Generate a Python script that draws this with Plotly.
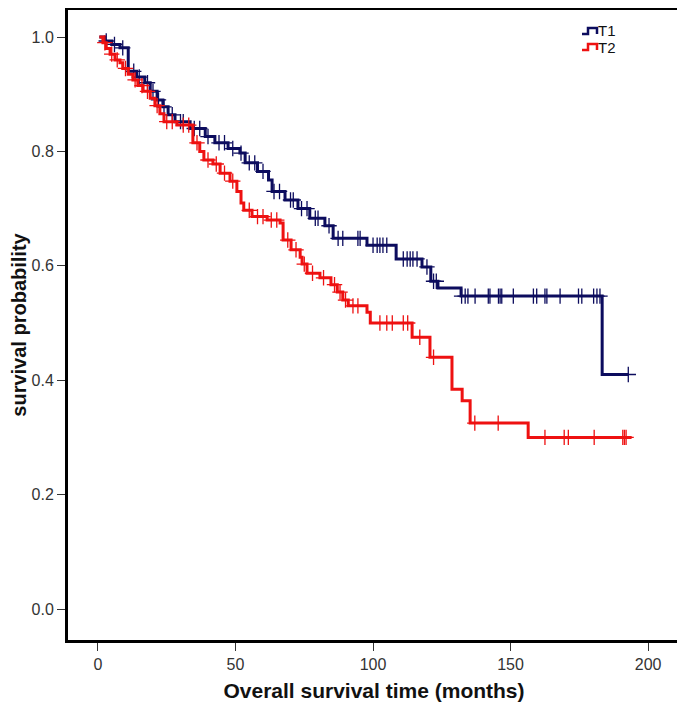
import plotly.graph_objects as go

# ---- data ----
t1_times = [0.5, 2.5, 5, 8, 11, 14, 17, 19, 21.5, 23.6, 25.5, 28, 33.5, 39, 42.5, 47.3, 51.6, 53.5,
            58, 62, 63.3, 68, 72.7, 77, 82.5, 85.5, 97.8, 108.4, 117.8, 121, 123.6, 132, 183.3, 193]
t1_surv = [1.0, 0.993, 0.987, 0.981, 0.94, 0.93, 0.92, 0.905, 0.89, 0.878, 0.864, 0.852, 0.84, 0.826,
           0.815, 0.805, 0.797, 0.78, 0.765, 0.75, 0.73, 0.715, 0.70, 0.683, 0.67, 0.648, 0.636, 0.612,
           0.598, 0.573, 0.561, 0.547, 0.41, 0.41]
t1_censor = [3, 6, 9, 13, 15, 18, 20, 22, 24, 27, 30, 31, 35, 37, 40, 44, 46, 49, 52, 55, 57, 60, 64,
             66, 70, 71, 74, 76, 79, 80, 84, 87.3, 89, 94.5, 95.3, 100, 101.5, 102.5, 103.6, 105, 111,
             112.4, 113.5, 114.5, 116, 119.6, 122, 123, 132.2, 133.5, 134.5, 137.1, 141.9, 142.5,
             145.6, 146.2, 146.8, 151.0, 158.3, 159.5, 162.5, 163.2, 168, 174.7, 175.9, 180.2, 181.4,
             182.5, 192.8]

t2_times = [0.5, 1.8, 3, 4.4, 6.2, 8, 9, 11, 12.7, 14.5, 16.4, 19, 20.7, 22.5, 24, 28.7, 34.5, 37,
            38.5, 41.8, 44.4, 48, 50.5, 52, 53, 56, 61.5, 66.2, 67.3, 70.2, 73.5, 74.2, 76, 80.7, 84.7,
            87, 89, 91, 97.8, 99, 114.2, 120.7, 128.7, 132.4, 135.3, 156.4, 194]
t2_surv = [1.0, 0.99, 0.98, 0.97, 0.96, 0.955, 0.945, 0.935, 0.925, 0.915, 0.905, 0.893, 0.88, 0.866,
           0.852, 0.846, 0.815, 0.80, 0.785, 0.778, 0.762, 0.748, 0.73, 0.71, 0.697, 0.686, 0.68,
           0.675, 0.645, 0.628, 0.615, 0.603, 0.587, 0.579, 0.567, 0.554, 0.54, 0.53, 0.519, 0.50,
           0.475, 0.44, 0.384, 0.364, 0.325, 0.30, 0.30]
t2_censor = [2.5, 5, 7, 10, 13.5, 16, 18, 21.5, 25, 27, 31, 33, 36, 40, 43, 46, 49, 55, 58, 60, 63,
             65, 69, 72, 75, 78, 82, 86, 88, 90, 92.7, 94.5, 102.5, 105, 107, 111, 112.6, 117,
             122, 137, 145.5, 162.5, 169.5, 171, 180.4, 190.8, 191.4, 192]

x_ticks = [0, 50, 100, 150, 200]
y_ticks = [0.0, 0.2, 0.4, 0.6, 0.8, 1.0]
series_names = ["T1", "T2"]

NAVY = "#0c0c5e"
RED = "#ee1111"

# page has an 8px body margin, so figure coords = page coords - 8
OFF = 8
W, H = 677, 698
ML, MR, MT, MB = 60, 5, 2, 66
PW, PH = W - ML - MR, H - MT - MB


def surv_at(times, surv, t):
    v = surv[0]
    for ti, si in zip(times, surv):
        if ti <= t:
            v = si
        else:
            break
    return v


def px(x, y):
    # page pixel -> paper coords
    x, y = x - OFF, y - OFF
    return (x - ML) / PW, (H - MB - y) / PH


fig = go.Figure()
for name, times, surv, cens, col in [(series_names[0], t1_times, t1_surv, t1_censor, NAVY),
                                     (series_names[1], t2_times, t2_surv, t2_censor, RED)]:
    fig.add_trace(go.Scatter(x=times, y=surv, mode="lines", line=dict(shape="hv", color=col, width=3),
                             name=name, showlegend=False))
    fig.add_trace(go.Scatter(x=cens, y=[surv_at(times, surv, c) for c in cens], mode="markers",
                             marker=dict(symbol="cross-thin", size=11, line=dict(color=col, width=1.3)),
                             showlegend=False, hoverinfo="skip"))

# custom step-shaped legend
shapes = []
annotations = []
for i, (name, col) in enumerate(zip(series_names, [NAVY, RED])):
    yb = 34 + 16 * i
    yt = yb - 6
    pts = [px(582, yb), px(588, yb), px(588, yt), px(597, yt), px(597, yb)]
    path = "M " + " L ".join(f"{a},{b}" for a, b in pts)
    shapes.append(dict(type="path", xref="paper", yref="paper", path=path,
                       line=dict(color=col, width=2.5)))
    ax, ay = px(596, yb - 3)
    annotations.append(dict(x=ax, y=ay, xref="paper", yref="paper", text=name, showarrow=False,
                            xanchor="left", yanchor="middle", font=dict(size=15, color="#111111")))

fig.update_layout(
    width=W, height=H,
    margin=dict(l=ML, r=MR, t=MT, b=MB, autoexpand=False),
    plot_bgcolor="white", paper_bgcolor="white",
    font=dict(family="Liberation Sans, Arial, sans-serif", color="#222222"),
    showlegend=False,
    shapes=shapes, annotations=annotations,
)
fig.update_xaxes(range=[-10.9, 211.6], tickvals=x_ticks, ticks="outside", ticklen=8, tickwidth=1,
                 tickcolor="#333333", showgrid=False, zeroline=False, showline=True, linecolor="black",
                 linewidth=3, mirror=True, tickfont=dict(size=16, color="#333333"), automargin=False,
                 title=dict(text="<b>Overall survival time (months)</b>", font=dict(size=21, color="#111111"),
                            standoff=12))
fig.update_yaxes(range=[-0.0542, 1.0472], tickvals=y_ticks, tickformat=".1f", ticks="outside", ticklen=8,
                 tickwidth=1, tickcolor="#333333", showgrid=False, zeroline=False, showline=True,
                 linecolor="black", linewidth=3, mirror=True, tickfont=dict(size=16, color="#333333"),
                 automargin=False,
                 title=dict(text="<b>survival probability</b>", font=dict(size=20, color="#111111"),
                            standoff=10))

fig.write_html("out.html")
